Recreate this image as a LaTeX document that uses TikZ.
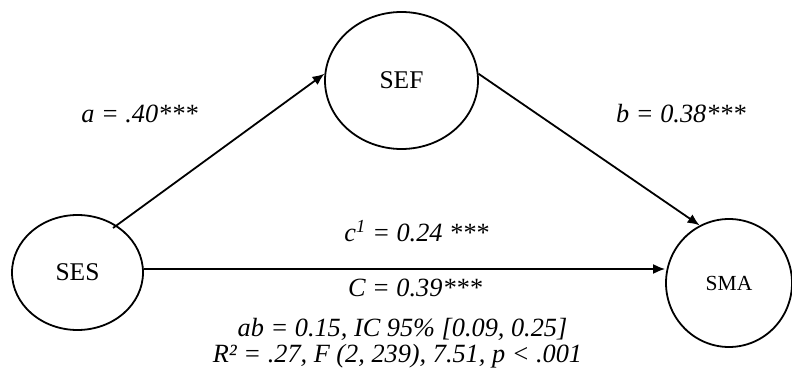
\documentclass[tikz,border=0pt]{standalone}
\usepackage{fontspec}
\setmainfont{Liberation Serif}
\usetikzlibrary{shapes.geometric,arrows.meta}
\begin{document}
\begin{tikzpicture}[x=1pt,y=-1pt,
  var/.style={draw,ellipse,line width=1.8pt,inner sep=0pt,font=\fontsize{25.5}{30}\selectfont},
  path/.style={line width=1.8pt,-{Latex[length=12pt,width=10pt]}},
  lbl/.style={anchor=base,inner sep=0pt,font=\fontsize{26.3}{30}\selectfont\itshape}]
\useasboundingbox (0,0) rectangle (792,371);
\node[var,minimum width=131pt,minimum height=115pt] (ses) at (77.5,272.5) {SES};
\node[var,minimum width=153pt,minimum height=137pt] (sef) at (401.5,80.5) {SEF};
\node[var,minimum width=126pt,minimum height=128pt,font=\fontsize{21.5}{26}\selectfont] (sma) at (729,283) {SMA};
\coordinate (s1) at (113,228);
\draw[path] (s1) -- (sef.175);
\draw[path] (sef.5) -- (sma.117);
\draw[path] (ses.east |- 0,269) -- (sma.west |- 0,269);
\node[lbl] (la) at (139.5,123) {a = .40***};
\node[lbl] (lb) at (681,123) {b = 0.38***};
\node[lbl] (lc1) at (416.5,242) {c\textsuperscript{1} = 0.24 ***};
\node[lbl] (lc) at (415,297) {C = 0.39***};
\node[lbl] (lab) at (402.5,336) {ab = 0.15, IC 95\% [0.09, 0.25]};
\node[lbl] (lr) at (397.5,362.5) {R² = .27, F (2, 239), 7.51, p < .001};
\end{tikzpicture}
\end{document}
